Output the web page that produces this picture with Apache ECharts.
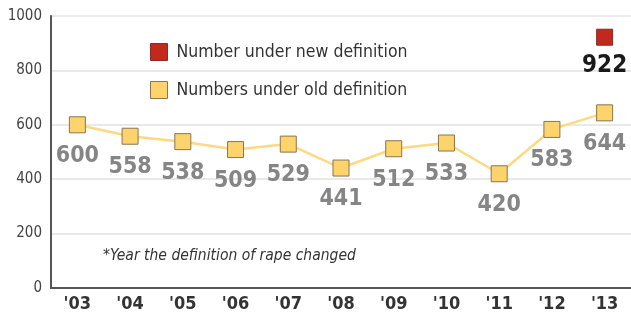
<!DOCTYPE html>
<html><head><meta charset="utf-8">
<script src="https://cdn.jsdelivr.net/npm/echarts@6/dist/echarts.min.js"></script>
<style>html,body{margin:0;padding:0;background:#fff}#c{width:631px;height:314px}</style>
</head><body><div id="c"></div>
<script>
const years = ["'03","'04","'05","'06","'07","'08","'09","'10","'11","'12","'13"];
const oldValues = [600,558,538,509,529,441,512,533,420,583,644];
const newValues = [null,null,null,null,null,null,null,null,null,null,922];
const yTicks = [0,200,400,600,800,1000];
const oldName = 'Numbers under old definition';
const newName = 'Number under new definition';

const FONT = "'Liberation Sans Narrow','DejaVu Sans Condensed','Roboto Condensed',sans-serif";
const chart = echarts.init(document.getElementById('c'));
chart.setOption({
  animation:false,
  textStyle:{fontFamily:FONT},
  grid:{left:51,right:0,top:16,bottom:26},
  legend:{
    orient:'vertical', left:145, top:38, itemGap:20, itemWidth:17, itemHeight:17,
    textStyle:{fontFamily:FONT,fontSize:17.5,color:'#333',padding:[0,0,0,4]},
    data:[
      {name:newName, icon:'rect', itemStyle:{color:'#C3281C',borderColor:'#8a2a20',borderWidth:1}},
      {name:oldName, icon:'rect', itemStyle:{color:'#FDD36C',borderColor:'#8a7550',borderWidth:1}}
    ]
  },
  xAxis:{
    type:'category', data:years, boundaryGap:true,
    axisLine:{lineStyle:{color:'#555',width:2}},
    axisTick:{show:false},
    axisLabel:{fontFamily:FONT,fontSize:18,fontWeight:'bold',color:'#333',margin:7}
  },
  yAxis:{
    type:'value', min:0, max:1000, interval:200,
    axisLine:{show:true,lineStyle:{color:'#555',width:2}},
    axisTick:{show:false},
    axisLabel:{fontFamily:FONT,fontSize:15,color:'#444',margin:9,
      formatter:v=>yTicks.includes(v)?String(v):''},
    splitLine:{lineStyle:{color:'#e2e2e2',width:1.5}}
  },
  graphic:[{type:'text',left:103,top:248,style:{text:'*Year the definition of rape changed',
    font:"italic 15.5px 'Liberation Sans Narrow','DejaVu Sans Condensed',sans-serif",fill:'#333'}}],
  series:[
    {name:oldName,type:'line',data:oldValues,symbol:'rect',symbolSize:16,
      lineStyle:{color:'#FCD982',width:2.5},
      itemStyle:{color:'#FDD36C',borderColor:'#8a7550',borderWidth:1},
      label:{show:true,position:'bottom',distance:11,fontFamily:FONT,fontSize:23,fontWeight:'bold',color:'#858585'},
      z:3},
    {name:newName,type:'line',data:newValues,symbol:'rect',symbolSize:16,
      lineStyle:{width:0},
      itemStyle:{color:'#C3281C',borderColor:'#8a2a20',borderWidth:1},
      label:{show:true,position:'bottom',distance:8,fontFamily:FONT,fontSize:24,fontWeight:'bold',color:'#1a1a1a'},
      z:4}
  ]
});
</script></body></html>
